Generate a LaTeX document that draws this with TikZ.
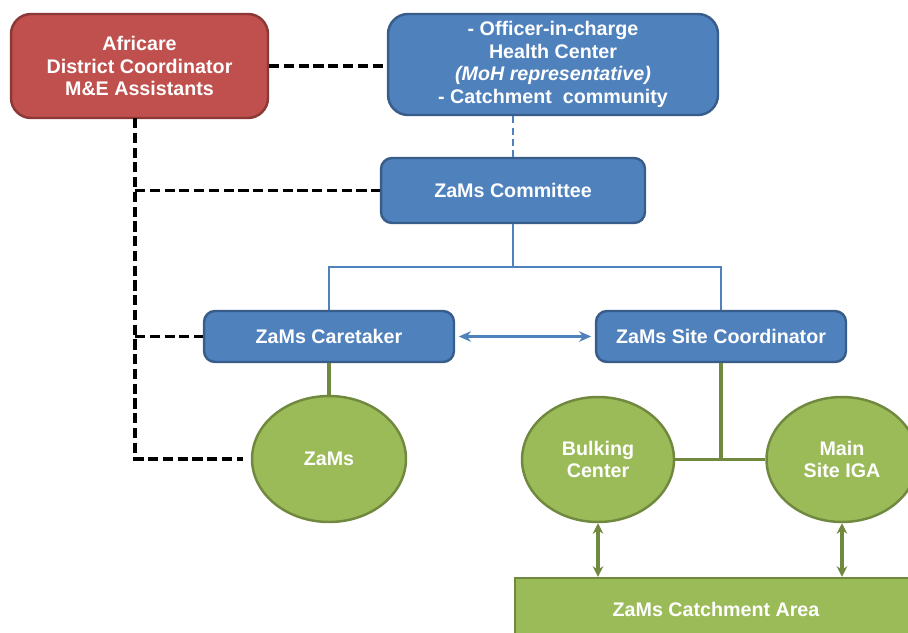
\documentclass[tikz,border=0pt]{standalone}
\usepackage{fontspec}
\setmainfont{Liberation Sans}
\usetikzlibrary{arrows.meta,shapes.geometric}

\definecolor{boxred}{HTML}{C0504D}
\definecolor{boxredline}{HTML}{8C3836}
\definecolor{boxblue}{HTML}{4F81BD}
\definecolor{boxblueline}{HTML}{385D8A}
\definecolor{boxgreen}{HTML}{9BBB59}
\definecolor{boxgreenline}{HTML}{71893F}

\tikzset{
	orgbox/.style={draw, line width=1.4pt, text=white, align=center,
		font=\fontsize{11.2}{12.9}\selectfont\bfseries},
	redbox/.style={orgbox, fill=boxred, draw=boxredline, rounded corners=0.4cm},
	bluebox/.style={orgbox, fill=boxblue, draw=boxblueline, rounded corners=0.22cm},
	greenoval/.style={orgbox, ellipse, fill=boxgreen, draw=boxgreenline},
	greenbox/.style={orgbox, fill=boxgreen, draw=boxgreenline},
	dashline/.style={line width=2pt, dash pattern=on 5.8pt off 2.6pt},
	blueline/.style={draw=boxblue, line width=1.5pt},
	greenline/.style={draw=boxgreenline, line width=1.8pt},
}

\begin{document}
\begin{tikzpicture}[x=0.02cm, y=-0.02cm]
			%%%%% START %%%%%
			
			\clip (0, 0) rectangle (908, 632);
			
			% top row
			\node[redbox, minimum width=5.14cm, minimum height=2.08cm] (africare) at (139.5, 66) {Africare\\District Coordinator\\M\&E Assistants};
			\node[bluebox, rounded corners=0.4cm, minimum width=6.6cm, minimum height=2.02cm] (officer) at (553, 64.5) {- Officer-in-charge\\Health Center\\\textit{(MoH representative)}\\- Catchment~ community};
			
			% committee and its two arms
			\node[bluebox, minimum width=5.28cm, minimum height=1.3cm] (committee) at (513, 190.5) {ZaMs Committee};
			\node[bluebox, minimum width=5cm, minimum height=1.02cm] (caretaker) at (329, 336.5) {ZaMs Caretaker};
			\node[bluebox, minimum width=5cm, minimum height=1.02cm] (sitecoord) at (721, 336.5) {ZaMs Site Coordinator};
			
			% field level
			\node[greenoval, minimum width=3.08cm, minimum height=2.52cm] (zams) at (329, 459) {ZaMs};
			\node[greenoval, minimum width=3.04cm, minimum height=2.5cm] (bulking) at (598, 459.5) {Bulking\\Center};
			\node[greenoval, minimum width=3.02cm, minimum height=2.5cm] (mainiga) at (842, 459.5) {Main\\Site IGA};
			\node[greenbox, minimum width=8.04cm, minimum height=1.24cm] (catchment) at (716, 609) {ZaMs Catchment Area};
			
			\coordinate (bar) at (513, 267);
			\coordinate (trunk) at (135, 118);
			
			% Africare links
			\draw[dashline] (africare) -- (africare -| officer.west);
			\draw[dashline] (trunk) |- ([xshift=-0.16cm]zams.west);
			\draw[dashline] (trunk |- committee.west) -- (committee.west);
			\draw[dashline] (trunk |- caretaker.west) -- (caretaker.west);
			
			% blue links
			\draw[blueline, dash pattern=on 4pt off 2.5pt] (committee.north |- officer.south) -- (committee.north);
			\draw[blueline] (committee.south) -- (bar);
			\draw[blueline] (caretaker.north) |- (bar) -| (sitecoord.north);
			\draw[blueline, {Stealth[length=7pt,width=6pt]}-{Stealth[length=7pt,width=6pt]}, shorten <=2pt, shorten >=2pt] (caretaker.east) -- (sitecoord.west);
			
			% green links
			\draw[greenline] (caretaker.south) -- (zams.north);
			\draw[greenline] (sitecoord.south) -- (sitecoord.south |- bulking.east);
			\draw[greenline] (bulking.east) -- (mainiga.west);
			\draw[greenline, {Stealth[length=6pt,width=6pt]}-{Stealth[length=6pt,width=6pt]}] (bulking.south) -- (bulking.south |- catchment.north);
			\draw[greenline, {Stealth[length=6pt,width=6pt]}-{Stealth[length=6pt,width=6pt]}] (mainiga.south) -- (mainiga.south |- catchment.north);
			
			%%%%% END %%%%%
\end{tikzpicture}
\end{document}
